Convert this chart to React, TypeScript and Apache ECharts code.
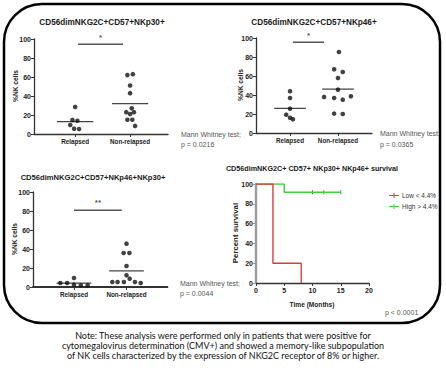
import React, { useEffect, useRef } from "react";
import * as echarts from "echarts";

// ---------- data ----------
const categories = ["Relapsed", "Non-relapsed"];
const yMax = 100;
const yStep = 20;

// Panel A: CD56dimNKG2C+CD57+NKp30+
const p30Relapsed = [28.5, 14.8, 14, 9.5, 5.6, 5.3];
const p30RelapsedJitter = [0, -0.05, 0.04, -0.09, -0.02, 0.07];
const p30NonRelapsed = [63, 62, 51, 43, 27, 23, 23, 21, 15, 15, 8.5];
const p30NonRelapsedJitter = [0.05, -0.05, 0, 0, 0.03, -0.07, 0.07, 0, -0.05, 0.04, 0.09];

// Panel B: CD56dimNKG2C+CD57+NKp46+
const p46Relapsed = [43.9, 36.8, 25.6, 19.3, 16.1, 14.4];
const p46RelapsedJitter = [0, 0, 0, -0.08, 0, 0.06];
const p46NonRelapsed = [85.3, 67, 64.2, 57.9, 45.6, 38, 38.6, 36.8, 35.1, 20.4, 20];
const p46NonRelapsedJitter = [0.02, -0.08, 0.1, 0, 0, -0.29, 0.27, -0.08, 0.1, -0.08, 0.1];

// Panel C: CD56dimNKG2C+CD57+NKp46+NKp30+
const dblRelapsed = [4.2, 4.2, 9.5, 2.5, 1.8, 1.8];
const dblRelapsedJitter = [-0.26, -0.13, 0, 0, 0.13, 0.26];
const dblNonRelapsed = [45.6, 35.8, 35.8, 22.1, 12.3, 8.8, 5.3, 5.3, 5.3, 5.3, 4.2];
const dblNonRelapsedJitter = [0, -0.055, 0.055, 0, 0, 0.06, -0.27, -0.17, -0.05, 0.16, 0.27];

// Significance annotations
const sigLabels = ["*", "*", "**"];
const sigLevels = [94.5, 95.5, 80.7];
const pValues = ["p = 0.0216", "p = 0.0365", "p = 0.0044"];

// Panel D: survival
const lowTimes = [0, 3, 8];
const lowSurvival = [100, 20, 0];
const highTimes = [0, 5, 15];
const highSurvival = [100, 91.7, 91.7];
const highCensorTimes = [10, 12, 15];
const highCensorSurvival = [91.7, 91.7, 91.7];
const survivalP = "p < 0.0001";
const timeMax = 20;
const timeStep = 5;

const noteLines = [
  "Note: These analysis were performed only in patients that were positive for",
  "cytomegalovirus determination (CMV+) and showed a memory-like subpopulation",
  "of NK cells characterized by the expression of NKG2C receptor of 8% or higher.",
];

// ---------- helpers ----------
const FONT = "Liberation Sans, Arial, sans-serif";
const mean = (a: number[]) => a.reduce((s, v) => s + v, 0) / a.length;

function dots(values: number[], jitter: number[], center: number) {
  return {
    type: "scatter",
    data: values.map((v, k) => [center + jitter[k], v]),
    symbolSize: 4.6,
    itemStyle: { color: "#111" },
    z: 3,
  };
}
function meanLine(values: number[], center: number) {
  const m = mean(values);
  return {
    type: "line",
    data: [
      [center - 0.33, m],
      [center + 0.33, m],
    ],
    symbol: "none",
    lineStyle: { color: "#444", width: 1.3 },
    z: 2,
  };
}
function sig(from: number, to: number, y: number, label: string, dy: number) {
  return [
    {
      type: "line",
      data: [
        [from, y],
        [to, y],
      ],
      symbol: "none",
      lineStyle: { color: "#555", width: 1.5 },
    },
    {
      type: "scatter",
      clip: false,
      data: [[(from + to) / 2, y + dy]],
      symbolSize: 0,
      label: {
        show: true,
        position: "inside",
        formatter: label,
        fontSize: 8,
        fontWeight: "bold",
        color: "#222",
        fontFamily: FONT,
      },
    },
  ];
}

function catX(min: number, max: number, lw: number) {
  return {
    type: "value",
    min,
    max,
    axisLine: { show: true, onZero: false, lineStyle: { color: "#333", width: lw } },
    axisTick: { show: true, customValues: [1, 2], length: 3, lineStyle: { color: "#333", width: 1 } },
    axisLabel: {
      customValues: [1, 2],
      formatter: (v: number) => categories[Math.round(v) - 1] || "",
      fontSize: 6.3,
      fontWeight: "bold",
      color: "#222",
      fontFamily: FONT,
      margin: 4,
    },
    splitLine: { show: false },
  };
}
function pctY(color = "#333", lw = 1.3) {
  return {
    type: "value",
    min: 0,
    max: yMax,
    interval: yStep,
    axisLine: { show: true, lineStyle: { color, width: lw } },
    axisTick: { show: true, length: 3 },
    axisLabel: { show: true, fontSize: 7, fontWeight: "bold", color: "#222", margin: 3 },
    splitLine: { show: false },
  };
}
function txt(x: number, y: number, text: string, size: number, weight = "normal", align = "left", color = "#222", family = FONT, rotation = 0) {
  return {
    type: "text",
    x,
    y,
    rotation,
    style: { text, fontSize: size, fontWeight: weight, fill: color, fontFamily: family, align, verticalAlign: "middle" },
    z: 50,
  };
}

function buildOptions(): any[] {
  const R = Math.PI / 2;
  const frame = {
    animation: false,
    backgroundColor: "#fff",
    graphic: [
      {
        type: "rect",
        shape: { x: 4, y: 4, width: 436, height: 319, r: 38 },
        style: { fill: "none", stroke: "#000", lineWidth: 2.5 },
        z: 100,
      },
      txt(102, 22, "CD56dimNKG2C+CD57+NKp30+", 8.2, "bold", "center", "#1a1a1a"),
      txt(314, 22, "CD56dimNKG2C+CD57+NKp46+", 8.2, "bold", "center", "#1a1a1a"),
      txt(93, 177, "CD56dimNKG2C+CD57+NKp46+NKp30+", 7.6, "bold", "center", "#1a1a1a"),
      txt(312, 168, "CD56dimNKG2C+ CD57+ NKp30+ NKp46+ survival", 7.2, "bold", "center", "#1a1a1a"),
      txt(15, 86, "%NK cells", 6.6, "bold", "center", "#222", FONT, R),
      txt(240, 85, "%NK cells", 6.6, "bold", "center", "#222", FONT, R),
      txt(14, 239, "%NK cells", 6.6, "bold", "center", "#222", FONT, R),
      txt(235, 233, "Percent survival", 7.8, "bold", "center", "#222", FONT, R),
      txt(312, 304, "Time (Months)", 6.6, "bold", "center", "#222"),
      txt(181, 134, "Mann Whitney test;", 7, "normal", "left", "#555"),
      txt(181, 144, pValues[0], 7, "normal", "left", "#555"),
      txt(380, 133, "Mann Whitney test;", 7, "normal", "left", "#555"),
      txt(380, 144, pValues[1], 7, "normal", "left", "#555"),
      txt(180, 283, "Mann Whitney test;", 7, "normal", "left", "#555"),
      txt(180, 293, pValues[2], 7, "normal", "left", "#555"),
      txt(385, 312, survivalP, 7, "normal", "left", "#555"),
      ...noteLines.map((l, k) => txt(223, 335 + k * 10, l, 9, "normal", "center", "#111", "Lato, sans-serif")),
    ],
  };

  const panelA = {
    animation: false,
    backgroundColor: "transparent",
    grid: { left: 34, top: 39, width: 134, height: 95 },
    xAxis: catX(0.25, 2.69, 1.3),
    yAxis: pctY(),
    series: [
      dots(p30Relapsed, p30RelapsedJitter, 1),
      dots(p30NonRelapsed, p30NonRelapsedJitter, 2),
      meanLine(p30Relapsed, 1),
      meanLine(p30NonRelapsed, 2),
      ...sig(1.05, 1.87, sigLevels[0], sigLabels[0], 7),
    ],
  };
  const panelB = {
    animation: false,
    backgroundColor: "transparent",
    grid: { left: 256, top: 38, width: 116, height: 95 },
    xAxis: catX(0.29, 2.71, 1.3),
    yAxis: pctY(),
    series: [
      dots(p46Relapsed, p46RelapsedJitter, 1),
      dots(p46NonRelapsed, p46NonRelapsedJitter, 2),
      meanLine(p46Relapsed, 1),
      meanLine(p46NonRelapsed, 2),
      ...sig(1.06, 1.71, sigLevels[1], sigLabels[1], 7),
    ],
  };
  const panelC = {
    animation: false,
    backgroundColor: "transparent",
    grid: { left: 33, top: 192, width: 134.5, height: 95 },
    xAxis: catX(0.22, 2.78, 1.8),
    yAxis: pctY(),
    series: [
      dots(dblRelapsed, dblRelapsedJitter, 1),
      dots(dblNonRelapsed, dblNonRelapsedJitter, 2),
      meanLine(dblRelapsed, 1),
      meanLine(dblNonRelapsed, 2),
      ...sig(1.0, 1.91, sigLevels[2], sigLabels[2], 8),
    ],
  };
  const panelD = {
    animation: false,
    backgroundColor: "transparent",
    grid: { left: 256, top: 184, width: 113, height: 99 },
    xAxis: {
      type: "value",
      min: 0,
      max: timeMax,
      interval: timeStep,
      axisLine: { show: true, onZero: false, lineStyle: { color: "#333", width: 1.3 } },
      axisTick: { show: true, length: 3 },
      axisLabel: { show: true, fontSize: 7, fontWeight: "bold", color: "#222", margin: 4 },
      splitLine: { show: false },
    },
    yAxis: pctY("#9a9a9a", 2.4),
    legend: {
      left: 384,
      top: 187,
      orient: "vertical",
      itemGap: 4,
      itemWidth: 10,
      itemHeight: 5,
      data: [
        { name: "Low < 4.4%", icon: "path://M0,4h10v1h-10z M4.5,2h1v5h-1z" },
        { name: "High > 4.4%", icon: "path://M0,4h10v1h-10z M4.5,2h1v5h-1z" },
      ],
      textStyle: { fontSize: 6.5, color: "#333", fontFamily: FONT, padding: [0, 0, 0, -2] },
    },
    series: [
      {
        name: "High > 4.4%",
        type: "line",
        step: "end",
        data: highTimes.map((t, k) => [t, highSurvival[k]]),
        symbol: "none",
        itemStyle: { color: "#3fcf3f" },
        lineStyle: { color: "#3fcf3f", width: 1.4 },
      },
      {
        name: "Low < 4.4%",
        type: "line",
        step: "end",
        data: lowTimes.map((t, k) => [t, lowSurvival[k]]),
        symbol: "none",
        itemStyle: { color: "#de3a3a" },
        lineStyle: { color: "#de3a3a", width: 1.4 },
      },
      {
        type: "scatter",
        data: highCensorTimes.map((t, k) => [t, highCensorSurvival[k]]),
        symbol: "rect",
        symbolSize: [1, 4],
        itemStyle: { color: "#1f5f1f" },
      },
    ],
  };
  return [frame, panelA, panelB, panelC, panelD];
}

const layerStyle: React.CSSProperties = {
  position: "absolute",
  left: 0,
  top: 0,
  width: 446,
  height: 368,
};

export default function App() {
  const refs = [
    useRef<HTMLDivElement>(null),
    useRef<HTMLDivElement>(null),
    useRef<HTMLDivElement>(null),
    useRef<HTMLDivElement>(null),
    useRef<HTMLDivElement>(null),
  ];
  useEffect(() => {
    const options = buildOptions();
    const charts: echarts.ECharts[] = [];
    refs.forEach((r, i) => {
      if (!r.current) return;
      const c = echarts.init(r.current, null, { renderer: "svg" });
      c.setOption(options[i]);
      charts.push(c);
    });
    return () => charts.forEach((c) => c.dispose());
  }, []);
  return (
    <div style={{ position: "absolute", left: 0, top: 0, width: 446, height: 368, background: "#fff" }}>
      {refs.map((r, i) => (
        <div key={i} ref={r} style={{ ...layerStyle, pointerEvents: i === 0 ? "auto" : "none" }} />
      ))}
    </div>
  );
}
